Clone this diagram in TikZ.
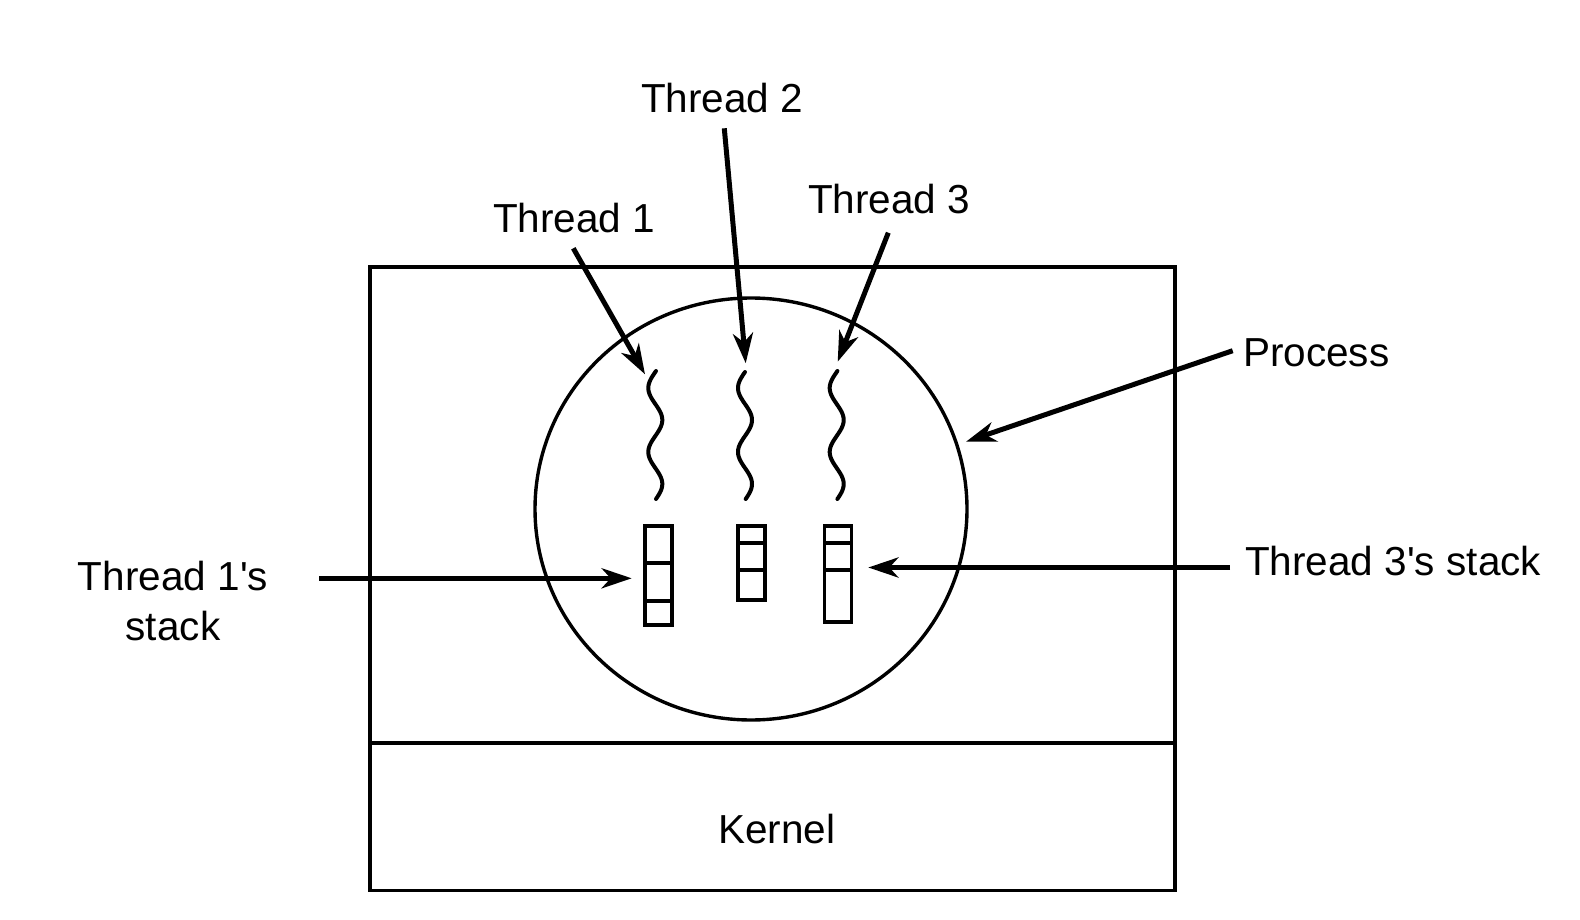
\documentclass[tikz,border=0pt]{standalone}
\usepackage{fontspec}
\newfontfamily\labfont{Liberation Sans}
\usetikzlibrary{arrows.meta,shapes.geometric}
\begin{document}
\begin{tikzpicture}[x=1pt,y=-1pt,
  lbl/.style={inner sep=0pt, font=\labfont\fontsize{40.5pt}{49.5pt}\selectfont},
  ptr/.style={line width=5pt, -{Stealth[length=30pt,width=20pt,inset=9pt]}},
  box/.style={line width=3.8pt},
  stk/.style={line width=3.6pt},
  wave/.style={line width=4pt, line cap=round}]
\useasboundingbox (0,0) rectangle (1580,920);
% outer frame
\coordinate (ul) at (370,267.3);
\coordinate (lr) at (1175,890.5);
\coordinate (ml) at (370,742.7);
\coordinate (mr) at (1175,742.7);
\draw[box] (ul) rectangle (lr);
\draw[box] (ml) -- (mr);
% process circle
\node[draw, ellipse, line width=3.4pt, minimum width=432pt, minimum height=422pt, inner sep=0pt] (proc) at (751,509) {};
% threads (squiggles)
\draw[wave] plot[domain=371:499, samples=80, smooth, variable=\t] ({655.3 - 7*cos(5.625*(\t-388))}, \t);
\draw[wave] plot[domain=372:499, samples=80, smooth, variable=\t] ({745 - 7*cos(5.625*(\t-388))}, \t);
\draw[wave] plot[domain=371:499, samples=80, smooth, variable=\t] ({836.7 - 7*cos(5.625*(\t-388))}, \t);
% stacks
\draw[stk] (645,526) rectangle (672,625);
\draw[stk] (645,563) -- (672,563);
\draw[stk] (645,601) -- (672,601);
\draw[stk] (738,526) rectangle (765,600);
\draw[stk] (738,542.7) -- (765,542.7);
\draw[stk] (738,570) -- (765,570);
\draw[stk] (824.5,526) rectangle (851.5,622);
\draw[stk] (824.5,542.7) -- (851.5,542.7);
\draw[stk] (824.5,570) -- (851.5,570);
% labels
\node[lbl, anchor=base west] (t1) at (493,233) {Thread 1};
\node[lbl, anchor=base west] (t2) at (641,112.7) {Thread 2};
\node[lbl, anchor=base west] (t3) at (808,214) {Thread 3};
\node[lbl, anchor=base west] (pr) at (1243,366.7) {Process};
\node[lbl, anchor=base west] (s3) at (1245,575) {Thread 3's stack};
\node[lbl, anchor=base, align=center] (s1) at (173,640) {Thread 1's\\stack};
\node[lbl, anchor=base] (kn) at (776.7,843.3) {Kernel};
% arrow end points
\coordinate (a1) at (573.3,248.3);
\coordinate (h1) at (645,374.3);
\coordinate (a2) at (724.3,128.3);
\coordinate (h2) at (745.7,363.3);
\coordinate (a3) at (888.3,232.7);
\coordinate (h3) at (837.7,361.7);
\coordinate (ap) at (1232.7,350.7);
\coordinate (hp) at (966,441.7);
\coordinate (as3) at (1230,567.5);
\coordinate (hs3) at (868.3,567.5);
\coordinate (as1) at (319,578.3);
\coordinate (hs1) at (631.7,578.3);
\draw[ptr] (a1) -- (h1);
\draw[ptr] (a2) -- (h2);
\draw[ptr] (a3) -- (h3);
\draw[ptr] (ap) -- (hp);
\draw[ptr] (as3) -- (hs3);
\draw[ptr] (as1) -- (hs1);
\end{tikzpicture}
\end{document}
